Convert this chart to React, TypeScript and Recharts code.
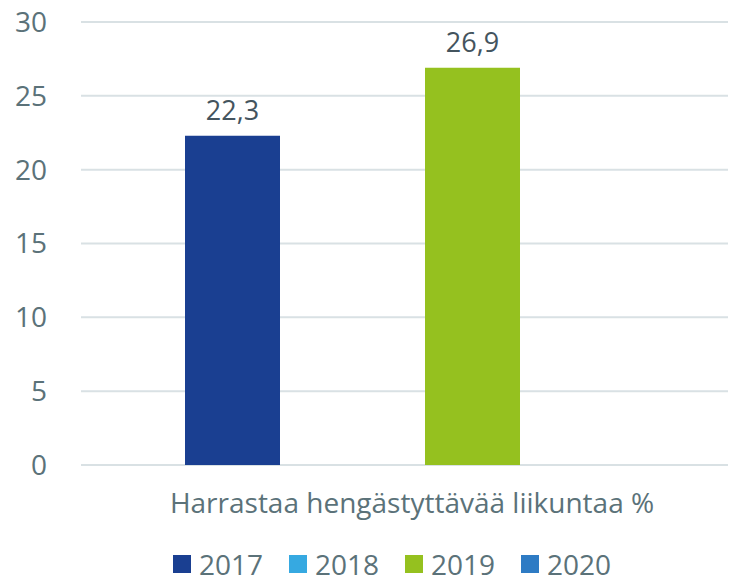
import { BarChart, Bar, XAxis, YAxis, CartesianGrid, Legend, LabelList } from "recharts";

const categories = ["Harrastaa hengästyttävää liikuntaa %"];
const years = ["2017", "2018", "2019", "2020"];
const values2017: (number | null)[] = [22.3];
const values2018: (number | null)[] = [null];
const values2019: (number | null)[] = [26.9];
const values2020: (number | null)[] = [null];
const yTicks = [0, 5, 10, 15, 20, 25, 30];

const colors = ["#1a3f91", "#36a9e1", "#95c11f", "#2e7bc4"];
const seriesValues = [values2017, values2018, values2019, values2020];

const data = categories.map((name, i) => {
	const row: Record<string, string | number | null> = { name };
	years.forEach((y, j) => {
		row[y] = seriesValues[j][i];
	});
	return row;
});

const font = "'Open Sans', sans-serif";
const tickColor = "#5b7279";

const fmt = (v: unknown) =>
	typeof v === "number" ? v.toFixed(1).replace(".", ",") : "";

const renderLegend = () => (
	<div
		style={{
			display: "flex",
			justifyContent: "center",
			fontFamily: font,
			fontSize: 28,
			lineHeight: "38px",
			color: tickColor,
			paddingLeft: 56,
		}}
	>
		{years.map((y, i) => (
			<div
				key={y}
				style={{ display: "flex", alignItems: "center", marginRight: i < 3 ? 26 : 0 }}
			>
				<span
					style={{
						width: 18,
						height: 18,
						background: colors[i],
						display: "inline-block",
						marginRight: 8,
					}}
				/>
				<span>{y}</span>
			</div>
		))}
	</div>
);

export default function App() {
	return (
		<div>
			<style>{`body{margin:0}`}</style>
			<BarChart
				width={730}
				height={583}
				data={data}
				margin={{ top: 22, right: 2, left: 0, bottom: 0 }}
				barGap={25}
			>
				<CartesianGrid stroke="#d9e1e4" strokeWidth={2} vertical={false} />
				<XAxis
					dataKey="name"
					axisLine={false}
					tickLine={false}
					padding={{ left: 15, right: 0 }}
					tickMargin={22}
					height={80}
					tick={{ fill: tickColor, fontFamily: font, fontSize: 28 }}
				/>
				<YAxis
					domain={[0, 30]}
					ticks={yTicks}
					width={81}
					axisLine={false}
					tickLine={false}
					tickMargin={28}
					tick={{ fill: tickColor, fontFamily: font, fontSize: 28 }}
				/>
				<Legend verticalAlign="bottom" content={renderLegend} />
				{years.map((y, i) => (
					<Bar
						key={y}
						dataKey={y}
						fill={colors[i]}
						barSize={95}
						isAnimationActive={false}
					>
						<LabelList
							dataKey={y}
							position="top"
							offset={16}
							formatter={fmt}
							style={{ fill: "#44545e", fontFamily: font, fontSize: 27 }}
						/>
					</Bar>
				))}
			</BarChart>
		</div>
	);
}
